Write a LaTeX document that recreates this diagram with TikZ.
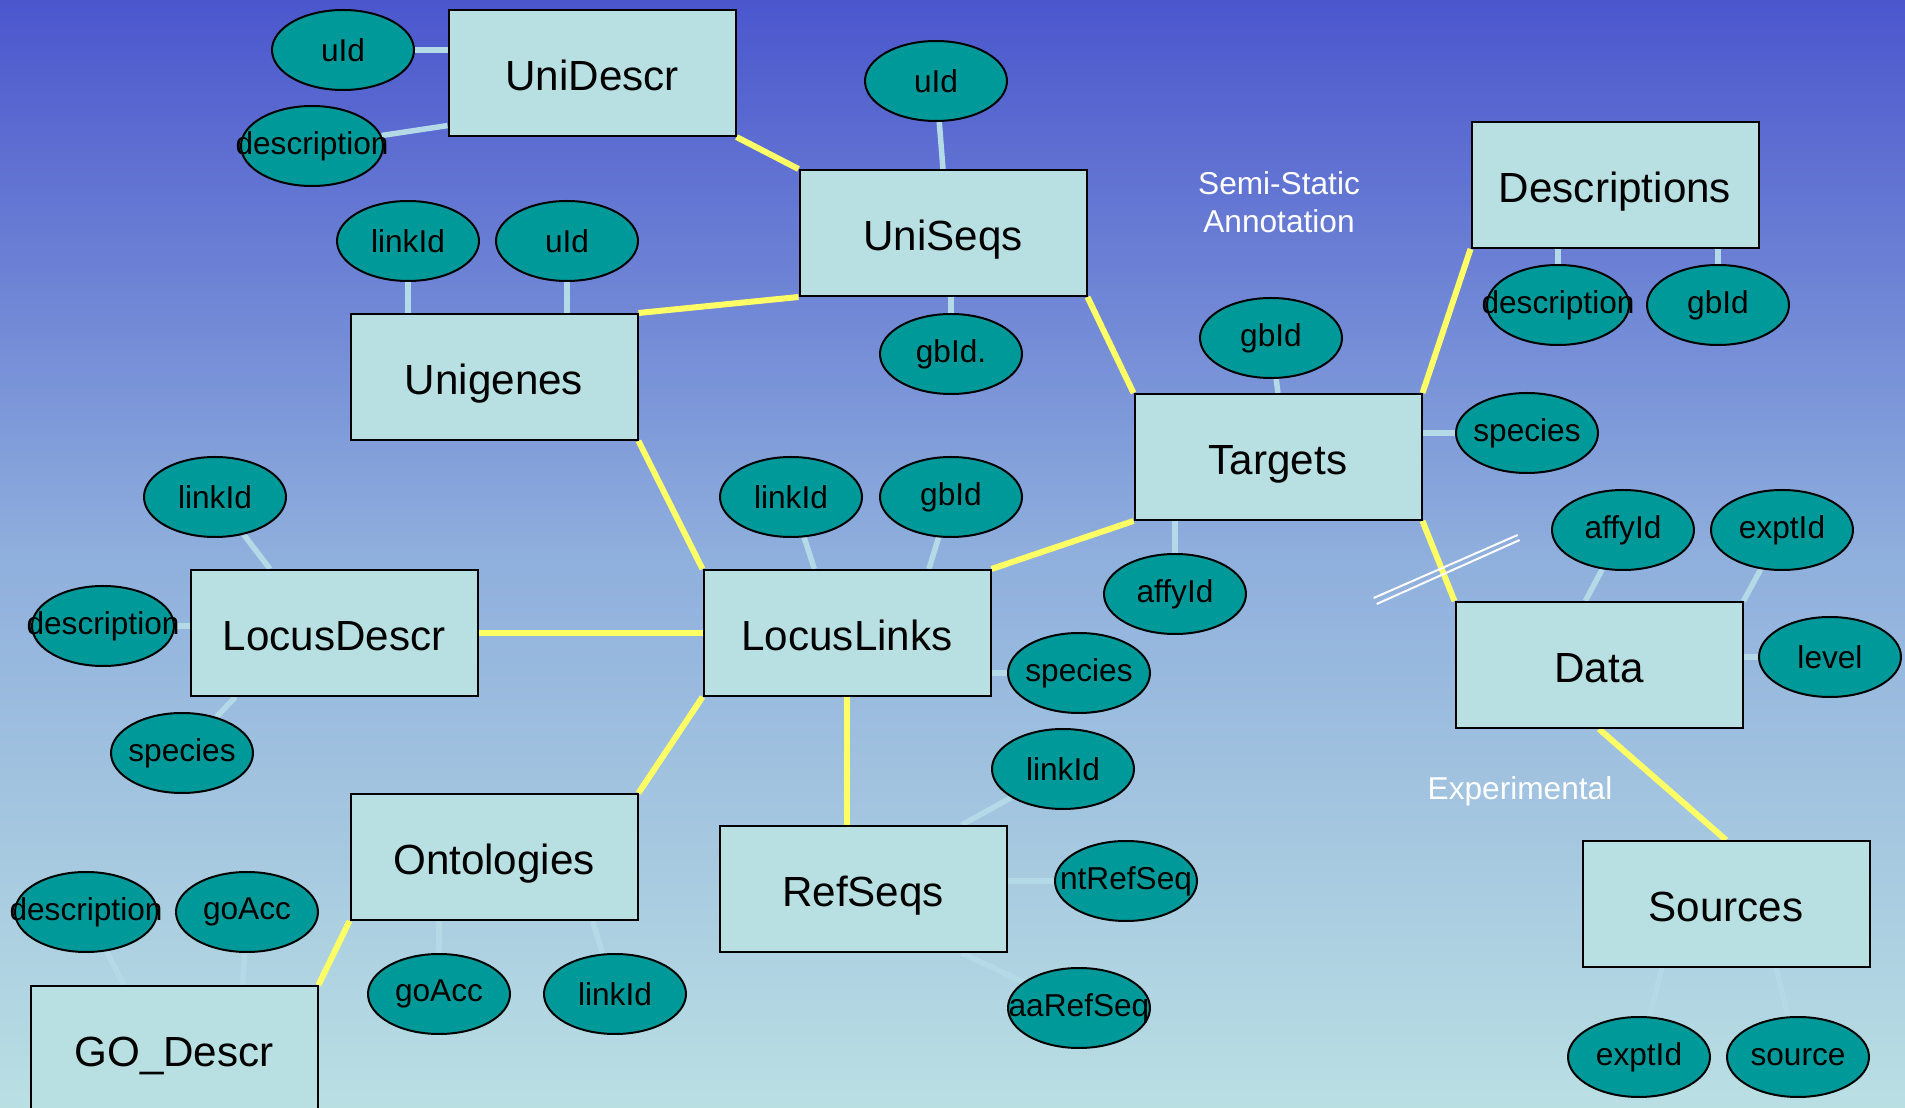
\documentclass[tikz,border=0pt]{standalone}
\usepackage{fontspec}
\setmainfont{Liberation Sans}
\usepackage{tikz}
\usetikzlibrary{shapes.geometric, calc, backgrounds}
\definecolor{bgtop}{HTML}{4B56CD}
\definecolor{bgmid}{HTML}{8FAFDD}
\definecolor{bgbottom}{HTML}{BADFE3}
\definecolor{boxfill}{HTML}{B8E0E2}
\definecolor{fieldfill}{HTML}{009999}
\definecolor{relyellow}{HTML}{FFFF66}
\definecolor{attrblue}{HTML}{B4DAE8}

\begin{document}
\begin{tikzpicture}[
    x=0.1mm, y=-0.1mm,
    entity/.style={rectangle, draw=black, line width=0.2mm, fill=boxfill, minimum width=28.7mm, minimum height=12.6mm, inner sep=0pt, text height=10pt, text depth=0pt, font=\fontsize{12}{14}\selectfont},
    field/.style={ellipse, draw=black, line width=0.2mm, fill=fieldfill, minimum width=14.2mm, minimum height=8mm, inner xsep=-8mm, inner ysep=0pt, font=\fontsize{9}{11}\selectfont},
    rel/.style={draw=relyellow, line width=0.6mm},
    attr/.style={draw=attrblue, line width=0.55mm},
    cutmark/.style={draw=white, line width=0.2mm},
    note/.style={white, align=center, font=\fontsize{9}{10.8}\selectfont},
]
\useasboundingbox (0,0) rectangle (1905,1108);

\node[entity] (unidescr) at (592,73) {UniDescr};
\node[entity] (uniseqs) at (943,233) {UniSeqs};
\node[entity] (unigenes) at (494,377) {Unigenes};
\node[entity] (descriptions) at (1615,185) {Descriptions};
\node[entity] (targets) at (1278,457) {Targets};
\node[entity] (locusdescr) at (334,633) {LocusDescr};
\node[entity] (locuslinks) at (847,633) {LocusLinks};
\node[entity] (data) at (1599,665) {Data};
\node[entity] (ontologies) at (494,857) {Ontologies};
\node[entity] (refseqs) at (863,889) {RefSeqs};
\node[entity] (sources) at (1726,904) {Sources};
\node[entity] (godescr) at (174,1049) {GO\_Descr};

\node[field] (uid1) at (343,50) {uId};
\node[field] (desc1) at (312,146) {description};
\node[field] (uid2) at (936,81) {uId};
\node[field] (link1) at (408,241) {linkId};
\node[field] (uid3) at (567,241) {uId};
\node[field] (gbid1) at (951,354) {gbId.};
\node[field] (desc2) at (1558,305) {description};
\node[field] (gbid2) at (1718,305) {gbId};
\node[field] (gbid3) at (1271,338) {gbId};
\node[field] (spec1) at (1527,433) {species};
\node[field] (affy1) at (1175,594) {affyId};
\node[field] (link2) at (215,497) {linkId};
\node[field] (desc3) at (103,626) {description};
\node[field] (spec2) at (182,753) {species};
\node[field] (link3) at (791,497) {linkId};
\node[field] (gbid4) at (951,497) {gbId};
\node[field] (spec3) at (1079,673) {species};
\node[field] (affy2) at (1623,530) {affyId};
\node[field] (expt1) at (1782,530) {exptId};
\node[field] (level) at (1830,657) {level};
\node[field] (link4) at (1063,769) {linkId};
\node[field] (ntref) at (1126,881) {ntRefSeq};
\node[field] (aaref) at (1079,1008) {aaRefSeq};
\node[field] (desc4) at (86,912) {description};
\node[field] (goacc1) at (247,912) {goAcc};
\node[field] (goacc2) at (439,994) {goAcc};
\node[field] (link5) at (615,994) {linkId};
\node[field] (expt2) at (1639,1057) {exptId};
\node[field] (source) at (1798,1057) {source};

\node[note] (semistatic) at (1279,202) {Semi-Static\\Annotation};
\node[note] (experimental) at (1520,791) {Experimental};

\begin{scope}[on background layer]
\shade[top color=bgtop, bottom color=bgbottom, middle color=bgmid] (0,0) rectangle (1905,1108);

\draw[rel] (unidescr.south east) -- (uniseqs.north west);
\draw[rel] (unigenes.north east) -- (uniseqs.south west);
\draw[rel] (uniseqs.south east) -- (targets.north west);
\draw[rel] (unigenes.south east) -- (locuslinks.north west);
\draw[rel] (locusdescr.east) -- (locuslinks.west);
\draw[rel] (locuslinks.north east) -- (targets.south west);
\draw[rel] (targets.north east) -- (descriptions.south west);
\draw[rel] (targets.south east) -- (data.north west);
\draw[rel] (locuslinks.south) -- (locuslinks.south |- refseqs.north);
\draw[rel] (locuslinks.south west) -- (ontologies.north east);
\draw[rel] (ontologies.south west) -- (godescr.north east);
\draw[rel] (data.south) -- (sources.north);

\draw[attr] (uid1) -- (uid1 -| unidescr.west);
\draw[attr] (desc1) -- (unidescr.200);
\draw[attr] (uid2) -- (uniseqs.north);
\draw[attr] (link1) -- (link1 |- unigenes.north);
\draw[attr] (uid3) -- (uid3 |- unigenes.north);
\draw[attr] (gbid1) -- (gbid1 |- uniseqs.south);
\draw[attr] (desc2) -- (desc2 |- descriptions.south);
\draw[attr] (gbid2) -- (gbid2 |- descriptions.south);
\draw[attr] (gbid3) -- (targets.north);
\draw[attr] (spec1) -- (spec1 -| targets.east);
\draw[attr] (affy1) -- (affy1 |- targets.south);
\draw[attr] (link2) -- (locusdescr.135);
\draw[attr] (desc3) -- (desc3 -| locusdescr.west);
\draw[attr] (spec2) -- (locusdescr.213);
\draw[attr] (link3) -- (locuslinks.117);
\draw[attr] (gbid4) -- (locuslinks.38);
\draw[attr] (spec3) -- (spec3 -| locuslinks.east);
\draw[attr] (affy2) -- (data.102);
\draw[attr] (expt1) -- (data.north east);
\draw[attr] (level) -- (level -| data.east);
\draw[attr] (link4) -- (refseqs.33);
\draw[attr] (ntref) -- (ntref -| refseqs.east);
\draw[attr] (aaref) -- (refseqs.-33);
\draw[attr] (desc4) -- (godescr.128);
\draw[attr] (goacc1) -- (godescr.43);
\draw[attr] (goacc2) -- (goacc2 |- ontologies.south);
\draw[attr] (link5) -- (ontologies.-33);
\draw[attr] (expt2) -- (sources.-135);
\draw[attr] (source) -- (sources.-52);
\end{scope}

\coordinate (cut) at ($(targets.south east)!0.6!(data.north west)+(5,0)$);
\draw[cutmark] ($(cut)+(-73,29)$) -- ($(cut)+(71,-34)$);
\draw[cutmark] ($(cut)+(-70,35)$) -- ($(cut)+(73,-29)$);
\end{tikzpicture}
\end{document}
